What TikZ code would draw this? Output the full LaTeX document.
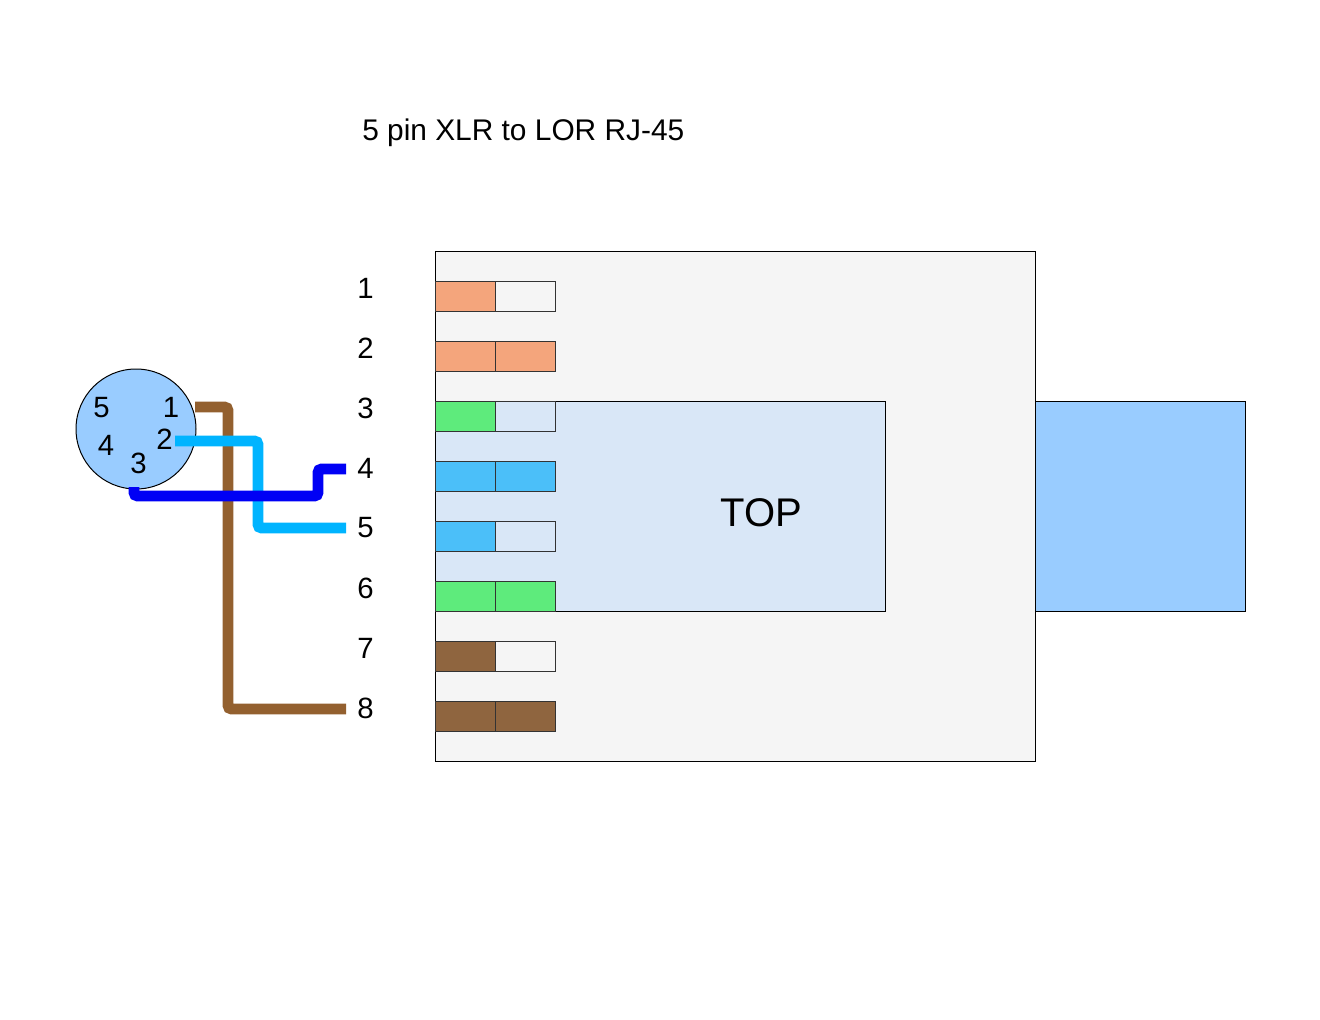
\documentclass[tikz,border=0pt]{standalone}
\usepackage{fontspec}
\setmainfont{Liberation Sans}
\usepackage{xcolor}
\usetikzlibrary{positioning}

\definecolor{bodygray}{HTML}{F5F5F5}
\definecolor{topblue}{HTML}{D9E7F7}
\definecolor{plugblue}{HTML}{99CCFF}
\definecolor{pinorange}{HTML}{F4A57C}
\definecolor{pingreen}{HTML}{5EEB7C}
\definecolor{pinblue}{HTML}{4BBFF9}
\definecolor{pinbrown}{HTML}{8F653F}
\definecolor{wirebrown}{HTML}{93602F}
\definecolor{wirecyan}{HTML}{00B4FF}
\definecolor{wireblue}{HTML}{0000F5}

\tikzset{
	box/.style={draw, rectangle, anchor=north west, inner sep=0pt, outer sep=0pt, line width=.75pt},
	cell/.style={box, draw=black!80, minimum width=45pt, minimum height=22.5pt},
	pinnum/.style={font=\fontsize{22}{24}\selectfont, inner sep=0pt},
	wire/.style={line width=8pt, rounded corners=2.5pt, line cap=butt},
}

\begin{document}
\begin{tikzpicture}[x=.75pt, y=-.75pt]
		\useasboundingbox (0,0) rectangle (1320,1020);

		% Title
		\node (title) [font=\fontsize{22.4}{24}\selectfont, inner sep=0pt, anchor=west] at (362,133) {5 pin XLR to LOR RJ-45};

		% Connector body
		\node (body) [box, fill=bodygray, minimum width=450pt, minimum height=382.5pt] at (435,251) {};
		\node (topface) [box, fill=topblue, minimum width=337.5pt, minimum height=157.5pt] at (435,401) {};
		\node (cable) [box, fill=plugblue, minimum width=157.5pt, minimum height=157.5pt] at (1035,401) {};
		\node (toplabel) [font=\fontsize{30}{32}\selectfont, inner sep=0pt] at (761.5,513) {TOP};

		% Contacts
		\foreach \n/\col/\full in {1/pinorange/0, 2/pinorange/1, 3/pingreen/0, 4/pinblue/1,
				5/pinblue/0, 6/pingreen/1, 7/pinbrown/0, 8/pinbrown/1} {
			\node (a\n) [cell, fill=\col] at (435,221+60*\n) {};
			\ifnum\full=1
				\node (b\n) [cell, fill=\col] at (495,221+60*\n) {};
			\else
				\node (b\n) [cell] at (495,221+60*\n) {};
			\fi
			\node (num\n) [pinnum] at (365.5,228+60*\n) {\n};
		}

		% XLR plug
		\node (xlr) [draw, circle, fill=plugblue, minimum size=90pt, inner sep=0pt, outer sep=0pt, line width=.75pt] at (136,429) {};
		\node (xlr5) [pinnum] at (101.5,407.5) {5};
		\node (xlr1) [pinnum] at (171,407) {1};
		\node (xlr4) [pinnum] at (106,445) {4};
		\node (xlr2) [pinnum] at (164.5,439) {2};
		\node (xlr3) [pinnum] at (138.5,463) {3};

		% Wire ends
		\coordinate (from1) at (195,407);
		\coordinate (from2) at (175,441);
		\coordinate (from3) at (134,487);
		\coordinate (to4) at (346,469);
		\coordinate (to5) at (346,528);
		\coordinate (to8) at (346,709);

		% Wires
		\draw[wire, wirebrown] (from1) -- (228,407) -- (228,709) -- (to8);
		\draw[wire, wirecyan] (from2) -- (258,441) -- (258,528) -- (to5);
		\draw[wire, wireblue] (from3) -- (134,496) -- (318,496) -- (318,469) -- (to4);
	\end{tikzpicture}
\end{document}
